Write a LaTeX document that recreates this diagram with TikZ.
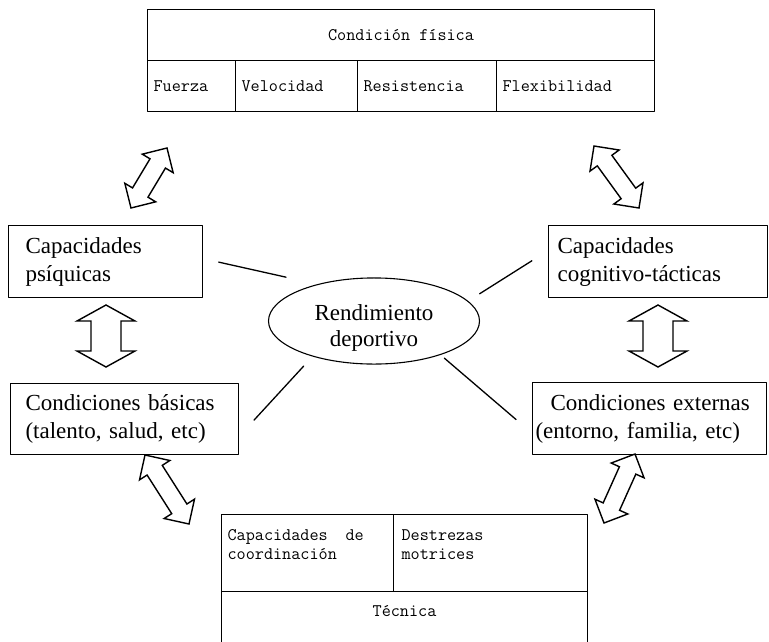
\documentclass[tikz,border=0pt]{standalone}
\usepackage{fontspec}
\setmainfont{Liberation Serif}
\usetikzlibrary{calc,shapes.geometric}

% block arrow with two heads: from, to, head length, head half width, shaft half width
\newcommand{\fatarrow}[5]{%
  \draw[fat] (#1) -- ($(#1)!#3!(#2)!#4!90:(#2)$) -- ($(#1)!#3!(#2)!#5!90:(#2)$)
    -- ($(#2)!#3!(#1)!#5!-90:(#1)$) -- ($(#2)!#3!(#1)!#4!-90:(#1)$) -- (#2)
    -- ($(#2)!#3!(#1)!#4!90:(#1)$) -- ($(#2)!#3!(#1)!#5!90:(#1)$)
    -- ($(#1)!#3!(#2)!#5!-90:(#2)$) -- ($(#1)!#3!(#2)!#4!-90:(#2)$) -- cycle;}

\begin{document}
\begin{tikzpicture}[x=1pt,y=-1pt,line cap=round,line join=round,
  box/.style={draw,line width=1.1pt,anchor=north west,align=left,inner ysep=0pt,font=\fontsize{23}{28}\selectfont},
  cell/.style={draw,line width=1.1pt,anchor=north west,align=left,inner xsep=6pt,inner ysep=0pt,font=\ttfamily\fontsize{17.7}{18.5}\selectfont},
  spoke/.style={line width=1.3pt},
  fat/.style={line width=1.4pt,fill=white,line join=miter}]
\useasboundingbox (0,0) rectangle (769,641);
\clip (0,0) rectangle (769,641);
% condicion fisica
\node[cell,align=center,minimum width=507pt,minimum height=51pt] (cf) at (147,9) {Condición física};
\node[cell,text width=76pt,minimum height=51pt] (fue) at (147,60) {Fuerza};
\node[cell,text width=110pt,minimum height=51pt] (vel) at (235,60) {Velocidad};
\node[cell,text width=127pt,minimum height=51pt] (res) at (357,60) {Resistencia};
\node[cell,text width=146pt,minimum height=51pt] (fle) at (496,60) {Flexibilidad};
% side boxes
\node[box,inner xsep=17pt,text width=160pt,minimum height=72pt] (psiq) at (8,225) {Capacidades\\psíquicas};
\node[box,inner xsep=9pt,text width=201pt,minimum height=72pt] (cog) at (548,225) {Capacidades\\cognitivo-tácticas};
\node[box,inner xsep=15pt,text width=198pt,minimum height=71pt] (bas) at (10,383) {Condiciones básicas\\(talento, salud, etc)};
\node[box,inner xsep=3pt,text width=228pt,minimum height=72pt] (ext) at (532,382) {\hspace*{15pt}Condiciones externas\\(entorno, familia, etc)};
% centre
\node[ellipse,draw,line width=1.1pt,minimum width=211pt,minimum height=85pt,inner sep=0pt,align=center,font=\fontsize{23}{26}\selectfont] (ell) at (374,321) {\rule{0pt}{30pt}Rendimiento\\deportivo};
% tecnica
\node[cell,text width=160pt,minimum height=77pt] (coo) at (221,514) {Capacidades\ \ \ de\\coordinación\rule[-17pt]{0pt}{1pt}};
\node[cell,inner xsep=8pt,text width=178pt,minimum height=77pt] (des) at (393,514) {Destrezas\\motrices\rule[-17pt]{0pt}{1pt}};
\node[cell,align=center,minimum width=366pt,minimum height=52pt] (tec) at (221,591) {Técnica\rule[-14pt]{0pt}{1pt}};
% spokes
\draw[spoke,shorten <=32pt,shorten >=16pt] (ell.147) -- ($(psiq.north east)!0.46!(psiq.south east)$);
\draw[spoke,shorten <=13.5pt,shorten >=19pt] (ell.12) -- ($(cog.north west)!0.35!(cog.south west)$);
\draw[spoke,shorten <=13pt,shorten >=22pt] (ell.210) -- ($(bas.north east)!0.74!(bas.south east)$);
\draw[spoke,shorten <=5pt,shorten >=21pt] (ell.333) -- ($(ext.north west)!0.70!(ext.south west)$);
% arrows
\coordinate (tl1) at (131,208); \coordinate (tl2) at (167,148);
\coordinate (tr1) at (594,146); \coordinate (tr2) at (639,208);
\coordinate (ml1) at (106,305); \coordinate (ml2) at (106,367);
\coordinate (mr1) at (658,305); \coordinate (mr2) at (658,367);
\coordinate (bl1) at (145,455); \coordinate (bl2) at (189,524);
\coordinate (br1) at (635,454); \coordinate (br2) at (604,523);
\fatarrow{tl1}{tl2}{18pt}{18pt}{9pt}
\fatarrow{tr1}{tr2}{18pt}{18pt}{9pt}
\fatarrow{ml1}{ml2}{16pt}{29pt}{15pt}
\fatarrow{mr1}{mr2}{16pt}{29pt}{15pt}
\fatarrow{bl1}{bl2}{18pt}{18pt}{9pt}
\fatarrow{br1}{br2}{18pt}{18pt}{9pt}
\end{tikzpicture}
\end{document}
